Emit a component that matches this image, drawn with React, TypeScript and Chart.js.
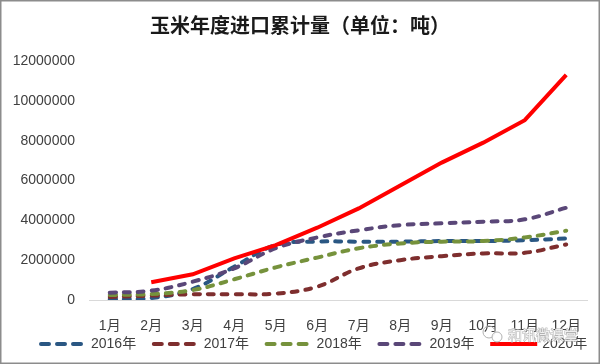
import { useEffect, useRef } from 'react';
import { Chart, registerables } from 'chart.js';

Chart.register(...registerables);

const FONT = '"Liberation Sans", "Noto Sans CJK SC", sans-serif';
const CJK = '"Noto Sans CJK SC", sans-serif';

const TITLE = '玉米年度进口累计量（单位：吨）';
const months = ['1月', '2月', '3月', '4月', '5月', '6月', '7月', '8月', '9月', '10月', '11月', '12月'];
const seriesNames = ['2016年', '2017年', '2018年', '2019年', '2020年'];
const y2016 = [50000, 100000, 550000, 1670000, 2760000, 2930000, 2930000, 2930000, 2960000, 2960000, 3000000, 3090000];
const y2017 = [150000, 220000, 290000, 290000, 320000, 670000, 1590000, 2000000, 2200000, 2340000, 2370000, 2790000];
const y2018 = [250000, 300000, 500000, 1040000, 1640000, 2130000, 2600000, 2840000, 2930000, 2960000, 3140000, 3480000];
const y2019 = [370000, 470000, 920000, 1590000, 2600000, 3140000, 3500000, 3760000, 3850000, 3930000, 4050000, 4630000];
const y2020 = [null, 890000, 1290000, 2090000, 2760000, 3630000, 4600000, 5750000, 6900000, 7900000, 9030000, 11300000];
const yMax = 12000000;
const yStep = 2000000;

const colors = ['#2A5783', '#7E2E2E', '#76923C', '#5A4778', '#FF0000'];

export default function App() {
  const ref = useRef<HTMLCanvasElement>(null);
  useEffect(() => {
    document.body.style.margin = '0';
    const values = [y2016, y2017, y2018, y2019, y2020];
    const datasets = values.map((v, i) => {
      const solid = i === 4;
      return {
        label: seriesNames[i],
        data: v,
        borderColor: colors[i],
        backgroundColor: colors[i],
        borderWidth: 4,
        borderDash: solid ? [] : [6, 8],
        borderCapStyle: solid ? 'butt' : 'round',
        tension: solid ? 0 : 0.4,
        pointRadius: 0,
        fill: false,
        spanGaps: false,
        order: 5 - i,
      } as any;
    });

    const decor = {
      id: 'decor',
      afterDraw(chart: any) {
        const ctx = chart.ctx as CanvasRenderingContext2D;
        ctx.save();
        // border
        ctx.strokeStyle = '#8c8c8c';
        ctx.lineWidth = 1.5;
        ctx.strokeRect(0.75, 0.75, 598.5, 362.5);
        // title
        ctx.fillStyle = '#1a1a1a';
        ctx.font = 'bold 20px ' + CJK;
        ctx.textAlign = 'center';
        ctx.textBaseline = 'middle';
        ctx.fillText(TITLE, 300, 25);
        // legend
        ctx.textAlign = 'left';
        ctx.font = '14px ' + FONT;
        chart.data.datasets.forEach((ds: any, i: number) => {
          const x0 = 39 + i * 112.8;
          const y = 344;
          ctx.beginPath();
          ctx.strokeStyle = ds.borderColor;
          if (i === 4) {
            ctx.setLineDash([]);
            ctx.lineWidth = 4;
            ctx.lineCap = 'butt';
            ctx.moveTo(x0, y);
            ctx.lineTo(x0 + 47, y);
          } else {
            ctx.setLineDash([8, 8]);
            ctx.lineWidth = 4;
            ctx.lineCap = 'round';
            ctx.moveTo(x0 + 2, y);
            ctx.lineTo(x0 + 44, y);
          }
          ctx.stroke();
          ctx.setLineDash([]);
          ctx.fillStyle = '#404040';
          ctx.fillText(ds.label, x0 + 52, y);
        });
        // watermark
        ctx.font = '14px ' + CJK;
        ctx.lineWidth = 1;
        ctx.strokeStyle = 'rgba(170,170,170,0.9)';
        ctx.fillStyle = 'rgba(255,255,255,0.8)';
        ctx.strokeText('和讯微课堂', 508, 335);
        ctx.fillText('和讯微课堂', 508, 335);
        ctx.beginPath();
        ctx.arc(489, 332, 6, 0, Math.PI * 2);
        ctx.stroke();
        ctx.beginPath();
        ctx.arc(497, 337, 5, 0, Math.PI * 2);
        ctx.fill();
        ctx.stroke();
        ctx.restore();
      },
    };

    const chart = new Chart(ref.current!, {
      type: 'line',
      data: { labels: months, datasets },
      options: {
        responsive: false,
        animation: false,
        layout: { padding: { top: 61, right: 13, left: 0, bottom: 0 } },
        plugins: {
          legend: { display: false },
          tooltip: { enabled: false },
          title: { display: false },
        },
        scales: {
          x: {
            offset: true,
            grid: { display: false, drawTicks: false },
            border: { display: true, color: '#d9d9d9', width: 1 },
            ticks: { padding: 18, color: '#404040', font: { family: FONT, size: 14 }, maxRotation: 0, autoSkip: false },
            afterFit: (s: any) => { s.height = 64; },
          },
          y: {
            min: 0,
            max: yMax,
            grid: { display: false, drawTicks: false },
            border: { display: false },
            ticks: {
              stepSize: yStep,
              padding: 14,
              color: '#404040',
              font: { family: FONT, size: 14 },
              callback: (v: any) => String(v),
            },
            afterFit: (s: any) => { s.width = 89; },
          },
        },
      } as any,
      plugins: [decor],
    });
    return () => chart.destroy();
  }, []);
  return <canvas ref={ref} width={600} height={364} style={{ display: 'block' }} />;
}
